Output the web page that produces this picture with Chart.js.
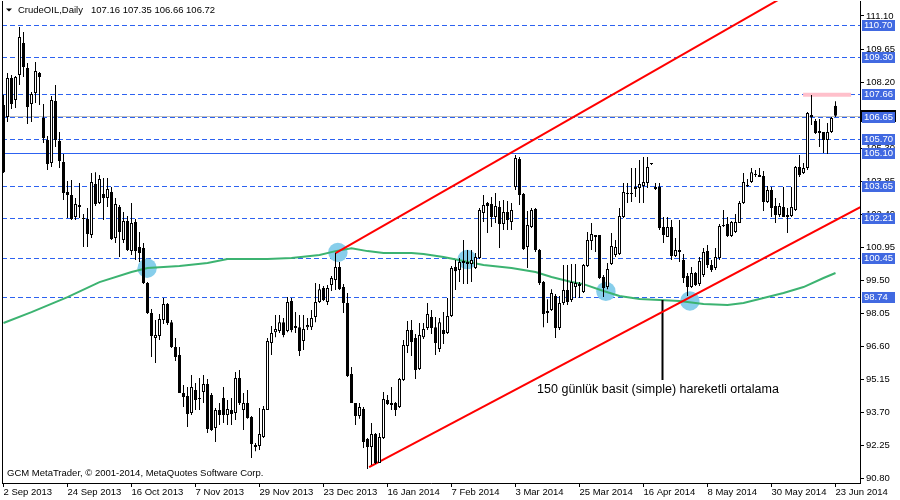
<!DOCTYPE html>
<html>
<head>
<meta charset="utf-8">
<script src="https://cdn.jsdelivr.net/npm/chart.js@4.4.1/dist/chart.umd.min.js"></script>
<style>
    html, body { margin: 0; padding: 0; background: #fff; }
    #wrap { width: 900px; height: 500px; }
</style>
</head>
<body>
<div id="wrap"><canvas id="chartCrude" width="900" height="500"></canvas></div>
<script>
/**
 * CrudeOIL,Daily - candles, MA(150), canal e niveis (Chart.js).
 */
(function() {
    // one value per daily bar, 2 Sep 2013 .. 23 Jun 2014
    var opens = [
        107.19, 106.66, 108.38, 107.41, 108.51, 109.91, 108.82, 107.23, 107.72, 108.60,
        106.62, 105.65, 104.64, 107.37, 105.61, 104.69, 103.37, 103.24, 102.27, 102.80,
        102.23, 102.18, 101.48, 103.72, 102.88, 103.28, 103.10, 103.37, 101.35, 102.71,
        101.26, 102.09, 100.78, 102.05, 100.95, 100.91, 99.37, 98.05, 96.95, 97.04,
        97.74, 98.45, 97.65, 96.56, 96.21, 94.54, 94.40, 93.66, 94.67, 94.32,
        94.58, 94.93, 94.45, 93.00, 93.79, 94.32, 93.57, 93.79, 93.66, 95.19,
        93.79, 94.10, 93.48, 92.25, 92.21, 92.60, 93.79, 96.73, 97.21, 97.26,
        97.65, 97.26, 98.58, 97.48, 97.43, 96.82, 97.43, 97.43, 97.87, 98.53,
        99.15, 98.53, 99.28, 99.50, 100.07, 99.19, 98.49, 95.37, 94.10, 93.53,
        93.83, 92.51, 92.16, 92.73, 91.46, 92.56, 94.23, 94.10, 94.10, 93.92,
        95.11, 96.60, 97.30, 96.95, 95.59, 96.99, 97.39, 97.87, 97.43, 96.47,
        97.30, 97.17, 97.92, 100.07, 99.94, 100.34, 100.29, 100.20, 100.03, 100.47,
        102.45, 102.88, 102.84, 102.27, 102.71, 101.96, 102.49, 102.05, 103.59, 104.82,
        103.28, 100.95, 101.83, 102.62, 100.82, 99.41, 98.14, 98.18, 98.80, 97.39,
        98.49, 99.06, 98.62, 99.19, 99.33, 98.97, 100.12, 101.21, 101.48, 101.48,
        99.63, 99.19, 100.20, 100.60, 100.64, 102.27, 103.32, 103.32, 103.59, 103.54,
        103.63, 103.76, 104.60, 103.59, 103.59, 101.83, 101.39, 101.83, 100.55, 100.82,
        100.38, 99.68, 99.19, 99.81, 99.33, 99.72, 100.78, 100.16, 100.03, 100.47,
        101.92, 101.96, 101.43, 101.61, 102.01, 102.88, 103.67, 103.81, 104.16, 104.11,
        104.07, 102.93, 103.45, 102.75, 102.36, 102.71, 102.27, 102.31, 102.58, 104.47,
        104.20, 104.42, 106.75, 106.49, 105.96, 106.00, 105.65, 106.00, 107.16
    ];
    var highs = [
        107.63, 108.60, 108.51, 108.46, 110.62, 110.40, 109.04, 107.76, 109.08, 108.64,
        107.23, 105.83, 107.59, 108.07, 106.00, 105.04, 103.85, 103.89, 103.10, 103.76,
        102.40, 102.66, 104.20, 104.24, 104.11, 103.98, 103.98, 103.59, 103.10, 102.80,
        102.49, 102.31, 102.88, 102.18, 101.61, 101.13, 99.41, 98.23, 97.74, 98.01,
        98.71, 98.49, 97.74, 96.95, 96.56, 94.89, 94.80, 95.33, 94.98, 95.19,
        95.33, 95.15, 94.54, 93.88, 94.10, 94.80, 94.23, 94.32, 95.46, 95.55,
        94.54, 94.67, 93.53, 92.34, 93.88, 93.96, 96.95, 97.48, 97.96, 97.96,
        97.83, 98.75, 98.71, 98.09, 97.96, 97.96, 97.83, 98.18, 99.37, 99.33,
        99.24, 99.28, 99.68, 100.69, 100.29, 99.33, 98.93, 95.68, 94.10, 94.10,
        93.92, 92.56, 93.22, 92.78, 92.78, 94.58, 94.45, 94.80, 94.14, 95.19,
        96.86, 97.70, 97.74, 97.13, 97.61, 97.61, 98.49, 98.18, 97.87, 97.83,
        98.09, 98.71, 100.12, 100.38, 100.47, 101.26, 100.82, 100.82, 100.69, 102.66,
        103.24, 102.93, 103.15, 103.32, 102.97, 103.02, 102.97, 102.88, 104.99, 104.90,
        103.32, 102.53, 102.66, 102.66, 100.86, 99.46, 98.66, 99.10, 98.89, 98.80,
        100.16, 100.16, 100.20, 100.20, 99.41, 100.20, 101.61, 102.01, 101.48, 101.48,
        99.72, 100.25, 101.57, 101.26, 102.66, 103.76, 103.76, 104.42, 104.42, 104.77,
        104.90, 104.90, 104.62, 103.76, 103.76, 102.27, 102.27, 102.14, 101.35, 102.14,
        100.64, 99.81, 100.07, 99.85, 100.51, 100.91, 101.04, 100.38, 100.91, 101.96,
        102.58, 102.27, 102.09, 102.40, 102.97, 104.20, 103.94, 104.42, 104.33, 104.42,
        104.29, 103.63, 103.59, 103.10, 102.88, 103.59, 102.66, 103.59, 104.51, 104.99,
        104.64, 106.88, 107.63, 106.57, 106.57, 106.00, 106.40, 106.66, 107.35
    ];
    var lows = [
        104.20, 106.44, 107.01, 107.06, 108.07, 108.42, 106.35, 106.44, 107.28, 107.19,
        105.52, 104.33, 104.47, 105.34, 104.42, 103.02, 102.23, 102.14, 102.14, 102.23,
        100.95, 100.95, 101.35, 102.75, 102.84, 102.14, 102.71, 101.26, 101.13, 100.51,
        101.13, 100.78, 100.60, 100.38, 100.29, 99.33, 98.01, 96.12, 95.85, 96.86,
        97.57, 97.52, 96.51, 95.94, 94.54, 93.92, 93.04, 93.57, 93.79, 93.79,
        94.10, 92.78, 92.87, 92.38, 93.13, 93.22, 93.13, 93.13, 93.35, 94.01,
        92.91, 93.40, 91.68, 91.98, 92.03, 92.56, 93.79, 96.21, 96.99, 97.17,
        96.99, 97.21, 97.21, 97.17, 96.16, 96.43, 97.30, 97.30, 97.65, 98.49,
        98.58, 98.40, 99.02, 99.06, 99.06, 98.05, 95.24, 94.10, 93.13, 93.40,
        92.12, 91.20, 91.37, 91.42, 91.46, 92.51, 94.01, 93.79, 93.53, 93.88,
        95.06, 96.29, 96.16, 95.15, 95.55, 96.91, 97.30, 97.13, 96.21, 96.34,
        96.69, 97.13, 97.87, 99.06, 99.41, 99.33, 99.33, 99.41, 99.98, 100.42,
        102.05, 101.57, 101.83, 102.01, 100.91, 101.70, 101.70, 101.70, 103.45, 102.80,
        100.82, 100.03, 101.79, 100.73, 99.28, 97.43, 97.61, 98.14, 96.95, 97.30,
        98.40, 98.40, 98.53, 98.71, 98.71, 98.93, 100.07, 100.82, 100.73, 99.55,
        98.75, 99.10, 100.16, 100.51, 100.60, 102.23, 102.88, 102.93, 103.15, 102.88,
        102.88, 103.54, 104.55, 103.45, 101.70, 101.13, 101.39, 100.38, 100.51, 100.29,
        99.37, 98.80, 99.15, 99.24, 99.24, 99.63, 100.03, 99.85, 99.94, 100.38,
        101.83, 101.39, 101.39, 101.57, 102.01, 102.84, 103.59, 103.76, 104.03, 104.03,
        102.53, 102.88, 102.27, 102.01, 102.27, 102.27, 101.57, 102.27, 102.53, 104.03,
        104.16, 104.33, 106.31, 105.92, 105.34, 105.08, 105.04, 105.96, 106.66
    ];
    var closes = [
        104.24, 108.38, 107.23, 108.42, 110.18, 108.86, 107.10, 107.67, 108.68, 108.42,
        105.74, 104.60, 107.41, 105.65, 104.73, 103.32, 103.24, 102.18, 102.84, 102.71,
        102.18, 101.52, 103.81, 102.84, 103.94, 103.10, 103.50, 101.30, 102.84, 101.61,
        102.09, 100.82, 102.00, 100.78, 100.69, 99.37, 98.05, 97.04, 97.08, 97.79,
        98.45, 97.61, 96.56, 96.12, 94.54, 94.36, 93.61, 94.80, 94.23, 94.27,
        94.93, 92.95, 92.91, 93.79, 93.57, 93.57, 93.83, 93.61, 95.19, 94.10,
        94.10, 93.44, 92.30, 92.16, 92.73, 93.83, 96.82, 97.17, 97.35, 97.65,
        97.08, 98.53, 97.30, 97.39, 96.38, 97.35, 97.52, 97.83, 98.53, 99.10,
        98.62, 99.15, 99.59, 100.07, 99.10, 98.49, 95.28, 94.10, 93.53, 93.92,
        92.38, 92.16, 92.73, 91.46, 92.60, 94.27, 94.05, 94.01, 93.79, 95.15,
        96.65, 97.30, 96.78, 95.55, 97.08, 97.35, 98.01, 97.39, 96.73, 97.65,
        97.13, 97.92, 100.03, 99.89, 100.29, 100.25, 100.20, 100.38, 100.51, 102.58,
        102.80, 102.75, 102.27, 102.75, 101.96, 102.49, 102.14, 102.58, 104.86, 103.24,
        100.86, 101.92, 102.58, 100.82, 99.37, 98.01, 98.05, 98.93, 97.39, 98.49,
        99.06, 98.53, 99.41, 99.37, 99.24, 100.16, 101.26, 101.52, 101.39, 99.59,
        99.15, 99.98, 100.99, 100.95, 102.31, 103.37, 103.28, 103.28, 103.50, 103.72,
        103.81, 104.47, 104.60, 103.50, 101.79, 101.48, 101.83, 100.55, 100.82, 100.73,
        99.59, 99.19, 99.81, 99.28, 100.34, 100.73, 100.16, 99.94, 100.51, 101.87,
        101.87, 101.43, 102.05, 102.05, 102.88, 103.81, 103.63, 104.24, 104.11, 104.03,
        102.93, 103.45, 102.66, 102.36, 102.75, 102.27, 102.36, 102.71, 104.47, 104.11,
        104.42, 106.84, 106.66, 105.96, 106.05, 105.65, 106.00, 106.62, 106.72
    ];

    var dateTicks = [0, 16, 32, 48, 64, 80, 96, 112, 128, 144, 160, 176, 192, 208];
    var dateLabels = ['2 Sep 2013', '24 Sep 2013', '16 Oct 2013', '7 Nov 2013', '29 Nov 2013',
        '23 Dec 2013', '16 Jan 2014', '7 Feb 2014', '3 Mar 2014', '25 Mar 2014',
        '16 Apr 2014', '8 May 2014', '30 May 2014', '23 Jun 2014'];
    var priceTicks = [90.80, 92.25, 93.70, 95.15, 96.60, 98.05, 99.50, 100.95,
        102.40, 103.85, 105.30, 106.75, 108.20, 109.65, 111.10];

    // 150 gunluk basit hareketli ortalama, lida em alguns candles
    var maBars = [0, 7, 16, 24, 32, 36, 44, 51, 56, 66, 72, 79, 83, 87, 91, 95, 102, 105, 110, 115,
        120, 127, 133, 137, 142, 145, 150, 154, 159, 164, 169, 175, 181, 185, 190, 195, 200, 205, 208];
    var maValues = [97.61, 98.09, 98.75, 99.41, 99.85, 100.03, 100.12, 100.25, 100.42, 100.42,
        100.47, 100.60, 100.77, 100.90, 100.77, 100.69, 100.69, 100.64, 100.51, 100.34,
        100.16, 100.03, 99.85, 99.63, 99.41, 99.32, 99.02, 98.80, 98.67, 98.62,
        98.58, 98.45, 98.40, 98.49, 98.71, 98.93, 99.19, 99.59, 99.81];

    // canal (bar, price)
    var upperBars = [83.0, 194.0];
    var upperPrices = [100.68, 111.84];
    var lowerBars = [91.4, 214.2];
    var lowerPrices = [91.28, 102.70];

    var touchBars = [35.9, 83.6, 115.9, 150.6, 171.6];
    var touchPrices = [100.02, 100.71, 100.40, 99.00, 98.58];

    var dashedLevels = [110.70, 109.30, 107.66, 106.65, 105.70, 103.65, 102.21, 100.45, 98.74];
    var solidLevels = [105.10];
    var bidPrice = 106.69;

    var highMarkBars = [199.9, 211.9];
    var highMarkPrice = 107.64;

    var noteBars = [164.75, 164.75];
    var notePrices = [98.62, 95.11];
    var noteText = '150 günlük basit (simple) hareketli ortalama';
    var noteAt = [133.4, 94.53];

    var symbol = 'CrudeOIL,Daily';
    var copyright = 'GCM MetaTrader, \u00a9 2001-2014, MetaQuotes Software Corp.';

    var FONT = '"Liberation Sans", Arial, sans-serif';
    var LEVEL_BLUE = '#2d62f0';
    var BOX_BLUE = '#4169e1';

    function pairs(xs, ys) {
        return xs.map(function(x, i) { return { x: x, y: ys[i] }; });
    }

    var last = opens.length - 1;
    var wicks = lows.map(function(l, i) { return { x: i, y: [l, highs[i]] }; });
    var bodies = opens.map(function(o, i) { return { x: i, y: [o, closes[i]] }; });
    var bodyColors = opens.map(function(o, i) { return closes[i] > o ? '#ffffff' : '#000000'; });

    function hline(ctx, a, yy) {
        ctx.beginPath();
        ctx.moveTo(a.left, yy);
        ctx.lineTo(a.right, yy);
        ctx.stroke();
    }

    var overlay = {
        id: 'mtOverlay',
        beforeDatasetsDraw: function(chart) {
            var ctx = chart.ctx, a = chart.chartArea, y = chart.scales.y;
            ctx.save();
            ctx.lineWidth = 1;
            ctx.strokeStyle = '#c0c0c0';
            hline(ctx, a, Math.round(y.getPixelForValue(bidPrice)) + 0.5);
            ctx.strokeStyle = LEVEL_BLUE;
            ctx.setLineDash([5, 3]);
            dashedLevels.forEach(function(v) {
                hline(ctx, a, Math.round(y.getPixelForValue(v)) + 0.5);
            });
            ctx.setLineDash([]);
            solidLevels.forEach(function(v) {
                hline(ctx, a, Math.round(y.getPixelForValue(v)) + 0.5);
            });
            ctx.restore();
        },
        afterDraw: function(chart) {
            var ctx = chart.ctx, a = chart.chartArea, x = chart.scales.x, y = chart.scales.y;
            ctx.save();

            // left frame
            ctx.strokeStyle = '#000';
            ctx.lineWidth = 1;
            ctx.beginPath();
            ctx.moveTo(a.left + 0.5, a.top);
            ctx.lineTo(a.left + 0.5, a.bottom);
            ctx.stroke();

            // bid label, mostly hidden by the level box
            ctx.fillStyle = '#000';
            ctx.fillRect(a.right + 1, Math.round(y.getPixelForValue(bidPrice)) - 6, 35, 12);

            // level labels on the price axis
            ctx.font = '9.5px ' + FONT;
            ctx.textAlign = 'left';
            ctx.textBaseline = 'middle';
            dashedLevels.concat(solidLevels).forEach(function(v) {
                var yy = Math.round(y.getPixelForValue(v));
                ctx.fillStyle = BOX_BLUE;
                ctx.fillRect(a.right + 2, yy - 5, 33, 11);
                ctx.fillStyle = '#fff';
                ctx.fillText(v.toFixed(2), a.right + 4, yy + 0.5);
            });

            // header
            ctx.fillStyle = '#000';
            ctx.beginPath();
            ctx.moveTo(6, 8.5);
            ctx.lineTo(12, 8.5);
            ctx.lineTo(9, 11.5);
            ctx.closePath();
            ctx.fill();
            ctx.textBaseline = 'alphabetic';
            ctx.fillText(symbol, 18, 12.5);
            ctx.fillText([opens[last], highs[last], lows[last], closes[last]].map(function(v) {
                return v.toFixed(2);
            }).join(' '), 91, 12.5);

            ctx.fillText(copyright, 7, 476);

            ctx.font = '12.5px ' + FONT;
            ctx.fillText(noteText, x.getPixelForValue(noteAt[0]), y.getPixelForValue(noteAt[1]));
            ctx.restore();
        }
    };

    Chart.defaults.font.family = FONT;
    Chart.defaults.font.size = 9.5;
    Chart.defaults.color = '#000';

    new Chart(document.getElementById('chartCrude'), {
        type: 'bar',
        data: {
            datasets: [
                {
                    type: 'bar', label: 'body', data: bodies,
                    backgroundColor: bodyColors, borderColor: '#000', borderWidth: 1,
                    borderSkipped: false, barThickness: 3, minBarLength: 1,
                    grouped: false, inflateAmount: 0, order: 0
                },
                {
                    type: 'bar', label: 'wick', data: wicks,
                    backgroundColor: '#000', borderWidth: 0, barThickness: 1,
                    grouped: false, inflateAmount: 0, order: 1
                },
                {
                    type: 'line', label: 'upper', data: pairs(upperBars, upperPrices),
                    borderColor: '#ff0000', borderWidth: 2, pointRadius: 0, order: 2
                },
                {
                    type: 'line', label: 'lower', data: pairs(lowerBars, lowerPrices),
                    borderColor: '#ff0000', borderWidth: 2, pointRadius: 0, order: 2
                },
                {
                    type: 'line', label: 'note', data: pairs(noteBars, notePrices),
                    borderColor: '#000', borderWidth: 2, pointRadius: 0, order: 2
                },
                {
                    type: 'line', label: 'MA150', data: pairs(maBars, maValues),
                    borderColor: '#3cb371', borderWidth: 2, pointRadius: 0, tension: 0, order: 3
                },
                {
                    type: 'line', label: 'high', data: pairs(highMarkBars, [highMarkPrice, highMarkPrice]),
                    borderColor: '#ffc0cb', borderWidth: 4, pointRadius: 0, order: 3
                },
                {
                    type: 'scatter', label: 'touch', data: pairs(touchBars, touchPrices),
                    backgroundColor: '#87ceeb', borderWidth: 0, pointRadius: 9.7, order: 5
                }
            ]
        },
        options: {
            responsive: false,
            devicePixelRatio: 1,
            animation: false,
            events: [],
            layout: { padding: { left: 2, top: 1, right: 0, bottom: 0 }, autoPadding: false },
            plugins: { legend: { display: false }, tooltip: { enabled: false } },
            scales: {
                x: {
                    type: 'linear', min: -0.375, max: 214.125, offset: false,
                    grid: { drawOnChartArea: false, drawTicks: true, tickLength: 4, color: '#000', offset: false },
                    border: { display: true, color: '#000' },
                    ticks: {
                        autoSkip: false, maxRotation: 0, minRotation: 0, align: 'start', padding: 0,
                        callback: function(v) {
                            var k = dateTicks.indexOf(v);
                            return k >= 0 ? dateLabels[k] : '';
                        }
                    },
                    afterBuildTicks: function(s) {
                        s.ticks = dateTicks.map(function(v) { return { value: v }; });
                    },
                    afterFit: function(s) {
                        s.height = 17;
                        s.paddingLeft = 0;
                        s.paddingRight = 0;
                    }
                },
                y: {
                    type: 'linear', position: 'right', min: 90.582, max: 111.759, beginAtZero: false,
                    grid: { drawOnChartArea: false, drawTicks: true, tickLength: 4, color: '#000' },
                    border: { display: true, color: '#000' },
                    ticks: {
                        padding: 2,
                        callback: function(v) { return Number(v).toFixed(2); }
                    },
                    afterBuildTicks: function(s) {
                        s.ticks = priceTicks.map(function(v) { return { value: v }; });
                    },
                    afterFit: function(s) {
                        s.width = 40;
                        s.paddingTop = 0;
                        s.paddingBottom = 0;
                    }
                }
            }
        },
        plugins: [overlay]
    });
})();
</script>
</body>
</html>
